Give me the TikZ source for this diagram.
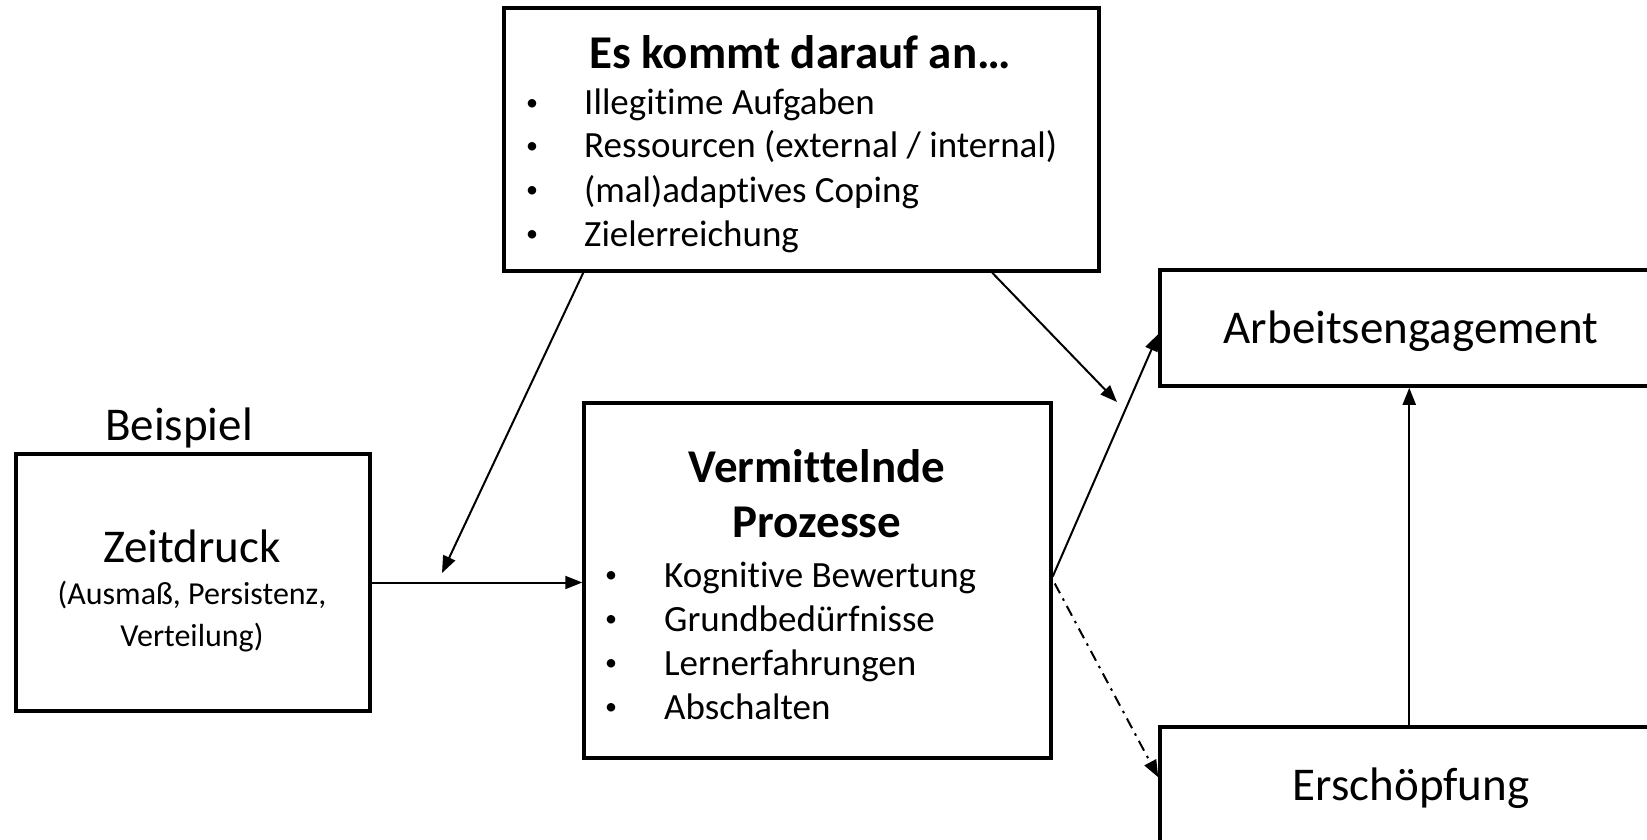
\documentclass[tikz,border=0pt]{standalone}
\usepackage{fontspec}
\setmainfont{Carlito}[Ligatures=NoCommon]
\usetikzlibrary{arrows.meta,calc}
\newcommand{\itembullet}[1]{\makebox[#1][l]{\raisebox{0.12em}{\fontsize{24}{24}\selectfont•}}}
\begin{document}
\begin{tikzpicture}[x=1pt,y=-1pt,
  box/.style={draw, line width=3.5pt, rectangle, inner sep=0pt},
  conn/.style={line width=2pt, -{Triangle[length=17pt,width=13pt]}},
  dashdot/.style={conn, dash pattern=on 11pt off 6pt on 2.5pt off 6pt},
  bigtxt/.style={font=\fontsize{47}{55}\selectfont, inner sep=0pt},
  boldtxt/.style={font=\bfseries\fontsize{47}{55}\selectfont, inner sep=0pt, align=center},
  smalltxt/.style={font=\fontsize{32}{42}\selectfont, inner sep=0pt, align=center},
  itemtxt/.style={font=\fontsize{37}{44}\selectfont, inner sep=0pt, anchor=base west},
]
\useasboundingbox (0,0) rectangle (1647,840);
\clip (0,0) rectangle (1647,840);

% boxes
\node[box, minimum width=595pt, minimum height=263pt] (cond) at (801.5,139.5) {};
\node[box, minimum width=354pt, minimum height=257pt] (zeit) at (193,582.5) {};
\node[box, minimum width=467pt, minimum height=355pt] (verm) at (817.5,580.5) {};
\node[box, minimum width=540pt, minimum height=116pt] (arb) at (1430,328) {};
\node[box, minimum width=540pt, minimum height=173pt] (ersch) at (1430,813.5) {};

% moderators
\node[boldtxt] (condtitle) at (800,52) {Es kommt darauf an…};
\node[itemtxt] (c1) at (526,115) {\itembullet{58pt}Illegitime Aufgaben};
\node[itemtxt] (c2) at (526,158) {\itembullet{58pt}Ressourcen (external / internal)};
\node[itemtxt] (c3) at (526,202) {\itembullet{58pt}(mal)adaptives Coping};
\node[itemtxt] (c4) at (526,246) {\itembullet{58pt}Zielerreichung};

% predictor
\node[bigtxt] (beisp) at (179,428) {Beispiel};
\node[bigtxt] (zeittxt) at (192,546) {Zeitdruck};
\node[smalltxt] (zeitsub) at (192,617) {(Ausmaß, Persistenz,\\Verteilung)};

% mediators
\node[boldtxt] (vermtitle) at (817,494) {Vermittelnde\\Prozesse};
\node[itemtxt] (v1) at (605,587) {\itembullet{59pt}Kognitive Bewertung};
\node[itemtxt] (v2) at (605,631) {\itembullet{59pt}Grundbedürfnisse};
\node[itemtxt] (v3) at (605,675) {\itembullet{59pt}Lernerfahrungen};
\node[itemtxt] (v4) at (605,719) {\itembullet{59pt}Abschalten};

% outcomes
\node[bigtxt] (arbtxt) at (1411,331) {Arbeitsengagement};
\node[bigtxt] (erschtxt) at (1411,788) {Erschöpfung};

% targets of the moderating arrows
\coordinate (m1) at (442,573);
\coordinate (m2) at (1117,402);

% connectors
\draw[conn] (zeit.east) -- (zeit.east -| verm.west);
\draw[conn] ($(cond.south west)+(81,0)$) -- (m1);
\draw[conn] ($(cond.south west)+(490,0)$) -- (m2);
\draw[conn] ($(verm.east)+(0,-4)$) -- ($(arb.west)+(0,6)$);
\draw[dashdot] ($(verm.east)+(2,3)$) -- ($(ersch.north west)+(0,52)$);
\draw[conn] ($(ersch.north west)+(251,0)$) -- ($(arb.south west)+(251,0)$);
\end{tikzpicture}
\end{document}
